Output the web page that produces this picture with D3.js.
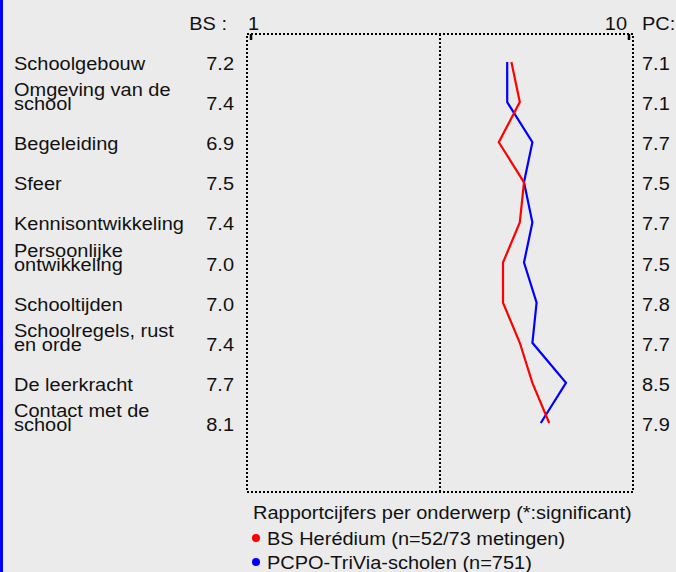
<!DOCTYPE html>
<html lang="nl">
<head>
    <meta charset="UTF-8">
    <title>Rapportcijfers per onderwerp</title>
    <script src="https://cdn.jsdelivr.net/npm/d3@7"></script>
    <style>
        html, body { margin: 0; padding: 0; background: #ebebeb; }
        svg { display: block; }
        text { font-family: "Liberation Sans", Arial, sans-serif; fill: #111; }
    </style>
</head>
<body>
    <div id="chart"></div>

    <script>
        // onderwerpen (meerregelige labels als array)
        const categories = [
            ["Schoolgebouw"],
            ["Omgeving van de", "school"],
            ["Begeleiding"],
            ["Sfeer"],
            ["Kennisontwikkeling"],
            ["Persoonlijke", "ontwikkeling"],
            ["Schooltijden"],
            ["Schoolregels, rust", "en orde"],
            ["De leerkracht"],
            ["Contact met de", "school"]
        ];
        const bsValues = [7.2, 7.4, 6.9, 7.5, 7.4, 7.0, 7.0, 7.4, 7.7, 8.1];
        const pcValues = [7.1, 7.1, 7.7, 7.5, 7.7, 7.5, 7.8, 7.7, 8.5, 7.9];
        const scaleTicks = [1, 10];
        const legendTitle = "Rapportcijfers per onderwerp (*:significant)";
        const seriesNames = ["BS Herédium (n=52/73 metingen)", "PCPO-TriVia-scholen (n=751)"];
        const seriesColors = ["#ff0000", "#0000ff"];

        const width = 676, height = 572;
        const fs = 18.5, sx = 1.08;   // bron-lettertype is iets breder getrokken

        const svg = d3.select("#chart")
            .append("svg")
            .attr("width", width)
            .attr("height", height);

        svg.append("rect")
            .attr("width", width)
            .attr("height", height)
            .attr("fill", "#ebebeb");

        // blauwe rand links
        svg.append("rect")
            .attr("x", 0).attr("y", 0)
            .attr("width", 3).attr("height", height)
            .attr("fill", "#0000ff");

        const x = d3.scaleLinear().domain([1, 10]).range([251, 629]);
        const y = d3.scalePoint()
            .domain(d3.range(categories.length))
            .range([62, 423]);

        const boxTop = 34, boxBottom = 492;
        const boxLeft = x(1) - 4, boxRight = x(10) + 4;

        function addText(g, str, tx, ty, anchor) {
            g.append("text")
                .attr("transform", `translate(${tx},${ty}) scale(${sx},1)`)
                .attr("text-anchor", anchor || "start")
                .style("font-size", fs + "px")
                .text(str);
        }

        // gestippelde kader
        const dotted = svg.append("g")
            .attr("fill", "none")
            .attr("stroke", "#000")
            .attr("stroke-width", 2)
            .attr("stroke-dasharray", "2,2");

        dotted.append("path")
            .attr("d", `M${boxLeft},${boxTop}H${boxRight}V${boxBottom}H${boxLeft}Z`);
        dotted.append("line")
            .attr("x1", x(5.5)).attr("x2", x(5.5))
            .attr("y1", boxTop).attr("y2", boxBottom);

        // schaalstreepjes 1 en 10
        svg.append("g")
            .selectAll("line")
            .data(scaleTicks)
            .enter()
            .append("line")
            .attr("x1", d => x(d)).attr("x2", d => x(d))
            .attr("y1", boxTop).attr("y2", boxTop + 6)
            .attr("stroke", "#000")
            .attr("stroke-width", 2.5);

        // kopregel
        const head = svg.append("g");
        addText(head, "BS :", 227, 30, "end");
        addText(head, String(scaleTicks[0]), x(scaleTicks[0]) - 3, 30, "start");
        addText(head, String(scaleTicks[1]), x(scaleTicks[1]) - 2, 30, "end");
        addText(head, "PC:", 642, 30, "start");

        // labels en cijfers
        const rows = svg.append("g");
        categories.forEach((lines, i) => {
            const base = y(i) + 8;
            lines.forEach((ln, j) => {
                addText(rows, ln, 14, base - (lines.length - 1 - j) * 14, "start");
            });
            addText(rows, bsValues[i].toFixed(1), 234, base, "end");
            addText(rows, pcValues[i].toFixed(1), 642, base, "start");
        });

        // lijnen
        const line = d3.line()
            .x(d => x(d))
            .y((d, i) => y(i));

        svg.append("path")
            .datum(pcValues)
            .attr("d", line)
            .attr("fill", "none")
            .attr("stroke", seriesColors[1])
            .attr("stroke-width", 2.2);

        svg.append("path")
            .datum(bsValues)
            .attr("d", line)
            .attr("fill", "none")
            .attr("stroke", seriesColors[0])
            .attr("stroke-width", 2.2);

        // legenda
        const legend = svg.append("g");
        addText(legend, legendTitle, 253, 519, "start");
        seriesNames.forEach((name, i) => {
            const ly = 545 + i * 24;
            legend.append("circle")
                .attr("cx", 256)
                .attr("cy", ly - 7)
                .attr("r", 4)
                .attr("fill", seriesColors[i]);
            addText(legend, name, 267, ly, "start");
        });
    </script>
</body>
</html>
